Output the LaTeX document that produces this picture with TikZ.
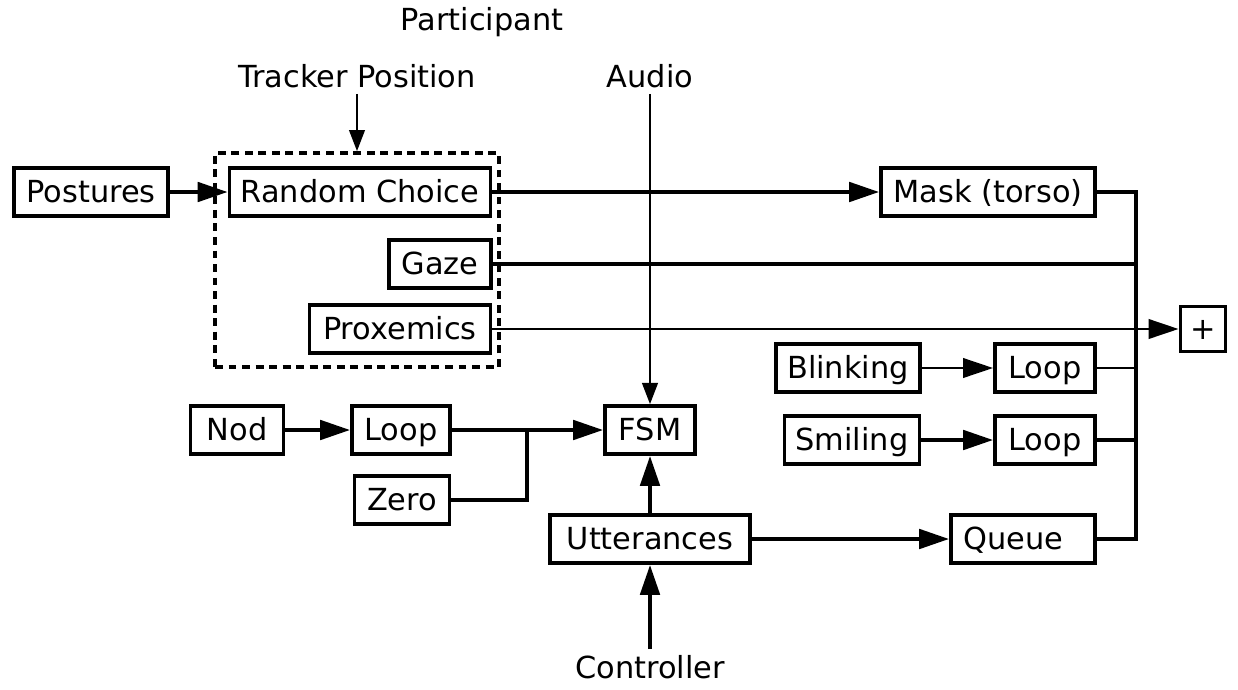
\documentclass[tikz,border=0pt]{standalone}
\usepackage{fontspec}
\setmainfont{DejaVu Sans}
\usetikzlibrary{arrows.meta}

\tikzset{
  blk/.style={draw, line width=2.2pt, minimum height=0.96cm, inner sep=0pt,
    text height=14pt, text depth=1.5pt},
  grp/.style={draw, line width=2.2pt, dash pattern=on 4.5pt off 3.2pt},
  wire/.style={line width=2.2pt},
  thinwire/.style={line width=1.5pt},
  hair/.style={line width=0.9pt},
  tip/.style={-{Triangle[length=17pt,width=11pt]}},
  smalltip/.style={-{Triangle[length=12pt,width=9pt]}},
}

\begin{document}
\begin{tikzpicture}[x=0.02cm, y=-0.02cm,
  every node/.append style={font=\fontsize{17.3}{20}\selectfont}]
\useasboundingbox (0,0) rectangle (1238,690);

% participant group
\node[grp, minimum width=5.68cm, minimum height=4.28cm] (part) at (357,260) {};
\node (partlbl) at (482,22) {Participant};
\node (tracker) at (357,76) {Tracker Position};
\node[blk, minimum width=3.08cm] (postures) at (91,192) {Postures};
\node[blk, minimum width=5.22cm] (choice) at (360,192) {Random Choice};
\node[blk, minimum width=2.04cm] (gaze) at (440,264) {Gaze};
\node[blk, minimum width=3.62cm] (prox) at (400,329) {Proxemics};

% right column
\node[blk, minimum width=4.28cm] (mask) at (988,192) {Mask (torso)};
\node[blk, minimum width=0.9cm, minimum height=0.9cm] (plus) at (1203,329) {+};
\node[blk, minimum width=2.88cm] (blink) at (848,368) {Blinking};
\node[blk, minimum width=2.0cm] (loopb) at (1045,368) {Loop};
\node[blk, minimum width=2.7cm] (smile) at (852,440) {Smiling};
\node[blk, minimum width=2.0cm] (loops) at (1045,440) {Loop};
\node[blk, minimum width=2.88cm] (queue) at (1023,539) {Queue\rule{0.38cm}{0pt}};

% lower part
\node[blk, minimum width=1.86cm] (nod) at (237,430) {Nod};
\node[blk, minimum width=1.96cm] (loopn) at (401,430) {Loop};
\node[blk, minimum width=1.9cm] (zero) at (402,500) {Zero};
\node[blk, minimum width=1.8cm] (fsm) at (650,430) {FSM};
\node[blk, minimum width=4.0cm] (utt) at (650,539) {Utterances};
\node (audio) at (650,76) {Audio};
\node (ctrl) at (650,667) {Controller};

\coordinate (bustop) at (1136,192);
\coordinate (busbot) at (1136,539);
\coordinate (join) at (527,430);

% connectors
\draw[hair, smalltip] (tracker) -- (part.north);
\draw[hair, smalltip] (audio) -- (fsm.north);
\draw[wire, tip] (postures) -- (choice);
\draw[wire, tip] (choice) -- (mask);
\draw[wire] (mask.east) -- (bustop) -- (busbot) -- (queue.east);
\draw[wire] (gaze.east) -- (gaze.east -| bustop);
\draw[thinwire, tip] (prox.east) -- (plus.west);
\draw[thinwire, tip] (blink) -- (loopb);
\draw[thinwire] (loopb.east) -- (loopb.east -| bustop);
\draw[wire, tip] (smile) -- (loops);
\draw[wire] (loops.east) -- (loops.east -| bustop);
\draw[wire, tip] (nod) -- (loopn);
\draw[wire, tip] (loopn) -- (fsm);
\draw[wire] (zero.east) -| (join);
\draw[wire, tip] (utt) -- (fsm);
\draw[wire, tip] (utt) -- (queue);
\draw[wire, tip] (ctrl) -- (utt);
\end{tikzpicture}
\end{document}
